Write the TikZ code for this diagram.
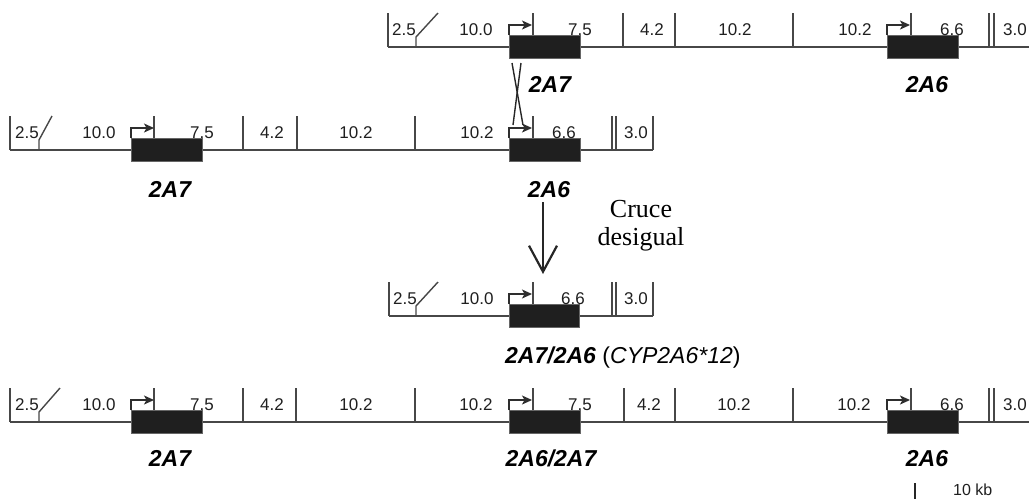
\documentclass[tikz,border=0pt]{standalone}
\usepackage{fontspec}
\setmainfont{Liberation Serif}
\setsansfont{Liberation Sans}
\usetikzlibrary{arrows.meta}

\tikzset{
  linea/.style={draw=black!72, line width=1.4pt},
  gruesa/.style={draw=black!72, line width=2.8pt},
  gen/.style={fill=black!88, draw=black!60, line width=0.8pt},
  prom/.style={draw=black!82, line width=1.3pt, -{Stealth[length=10pt,width=9pt,inset=2.5pt]}},
  num/.style={anchor=base, inner sep=0pt, text=black!88, font=\sffamily\fontsize{17}{20}\selectfont},
  nomgen/.style={anchor=base, inner sep=0pt, font=\sffamily\bfseries\itshape\fontsize{23}{26}\selectfont},
  flecha/.style={draw=black!85, line width=2.2pt, -{Straight Barb[length=26pt,width=28pt]}},
}

\begin{document}
\begin{tikzpicture}[x=1pt, y=-1pt]

  \useasboundingbox (0,0) rectangle (1029,499);

  % Fila 1 : 2A7 ... 2A6
  \begin{scope}[shift={(0,47)}]
    \draw[linea] (388,0) -- (1029,0);
    \foreach \x in {388, 533, 675, 793, 911, 989, 994} {
      \draw[linea] (\x,-34) -- (\x,0);
    }
    \draw[gruesa] (623,-34) -- (623,0);
    \draw[linea] (416,0) -- (416,-10) -- (438,-34);
    \foreach \x/\y in {509/532, 887/910} {
      \draw[gen] (\x,-12) rectangle (\x+71,11);
      \draw[prom] (\x,-12) -- (\x,-22) -- (\y,-22);
    }
    \foreach \x/\txt [count=\i] in {404/2.5, 476/10.0, 580/7.5, 652/4.2, 735/10.2, 855/10.2, 952/6.6, 1015/3.0} {
      \node[num] (a\i) at (\x,-12) {\txt};
    }
    \node[nomgen] (g1a) at (550,45) {2A7};
    \node[nomgen] (g1b) at (927,45) {2A6};
  \end{scope}

  % Entrecruzamiento
  \coordinate (xa) at (512,63);
  \coordinate (xb) at (523,125);
  \coordinate (xc) at (521,63);
  \coordinate (xd) at (513,125);
  \draw[linea, draw=black!85] (xa) -- (xb);
  \draw[linea, draw=black!85] (xc) -- (xd);

  % Fila 2 : 2A7 ... 2A6
  \begin{scope}[shift={(0,150)}]
    \draw[linea] (10,0) -- (653,0);
    \foreach \x in {10, 154, 297, 415, 533, 612, 616, 653} {
      \draw[linea] (\x,-34) -- (\x,0);
    }
    \draw[gruesa] (243,-34) -- (243,0);
    \draw[linea] (39,0) -- (39,-10) -- (52,-34);
    \foreach \x/\y in {131/154, 509/532} {
      \draw[gen] (\x,-12) rectangle (\x+71,11);
      \draw[prom] (\x,-12) -- (\x,-22) -- (\y,-22);
    }
    \foreach \x/\txt [count=\i] in {27/2.5, 99/10.0, 202/7.5, 272/4.2, 356/10.2, 477/10.2, 564/6.6, 636/3.0} {
      \node[num] (b\i) at (\x,-12) {\txt};
    }
    \node[nomgen] (g2a) at (170,47) {2A7};
    \node[nomgen] (g2b) at (549,47) {2A6};
  \end{scope}

  % Fleche
  \coordinate (fl1) at (543,202);
  \coordinate (fl2) at (543,274);
  \draw[flecha] (fl1) -- (fl2);
  \node[align=center, inner sep=0pt, font=\fontsize{26}{28}\selectfont] (cruce) at (641,226) {Cruce\\desigual};

  % Fila 3 : 2A7/2A6
  \begin{scope}[shift={(0,316)}]
    \draw[linea] (389,0) -- (653,0);
    \foreach \x in {389, 533, 612, 616, 653} {
      \draw[linea] (\x,-34) -- (\x,0);
    }
    \draw[linea] (416,0) -- (416,-10) -- (438,-34);
    \draw[gen] (509,-12) rectangle (579,11);
    \draw[prom] (509,-12) -- (509,-22) -- (532,-22);
    \foreach \x/\txt [count=\i] in {405/2.5, 477/10.0, 573/6.6, 636/3.0} {
      \node[num] (c\i) at (\x,-12) {\txt};
    }
    \node[anchor=base west, inner sep=0pt, font=\sffamily\fontsize{23}{26}\selectfont] (g3) at (505,47)
      {\textbf{\textit{2A7/2A6}} (\textit{CYP2A6*12})};
  \end{scope}

  % Fila 4 : 2A7 ... 2A6/2A7 ... 2A6
  \begin{scope}[shift={(0,422)}]
    \draw[linea] (10,0) -- (1029,0);
    \foreach \x in {10, 154, 296, 415, 533, 675, 793, 911, 989, 994} {
      \draw[linea] (\x,-34) -- (\x,0);
    }
    \foreach \x in {243, 624} {
      \draw[gruesa] (\x,-34) -- (\x,0);
    }
    \draw[linea] (39,0) -- (39,-10) -- (60,-34);
    \foreach \x/\y in {131/154, 509/532, 887/910} {
      \draw[gen] (\x,-12) rectangle (\x+71,11);
      \draw[prom] (\x,-12) -- (\x,-22) -- (\y,-22);
    }
    \foreach \x/\txt [count=\i] in {27/2.5, 99/10.0, 202/7.5, 272/4.2, 356/10.2, 476/10.2, 580/7.5, 649/4.2, 734/10.2, 854/10.2, 952/6.6, 1015/3.0} {
      \node[num] (d\i) at (\x,-12) {\txt};
    }
    \node[nomgen] (g4a) at (170,44) {2A7};
    \node[nomgen] (g4b) at (551,44) {2A6/2A7};
    \node[nomgen] (g4c) at (927,44) {2A6};
  \end{scope}

  % Escala
  \coordinate (e1) at (915,483);
  \coordinate (e2) at (915,499);
  \draw[linea, draw=black!85] (e1) -- (e2);
  \node[num, anchor=base west, font=\sffamily\fontsize{16}{19}\selectfont] (esc) at (953,495) {10 kb};

\end{tikzpicture}
\end{document}
